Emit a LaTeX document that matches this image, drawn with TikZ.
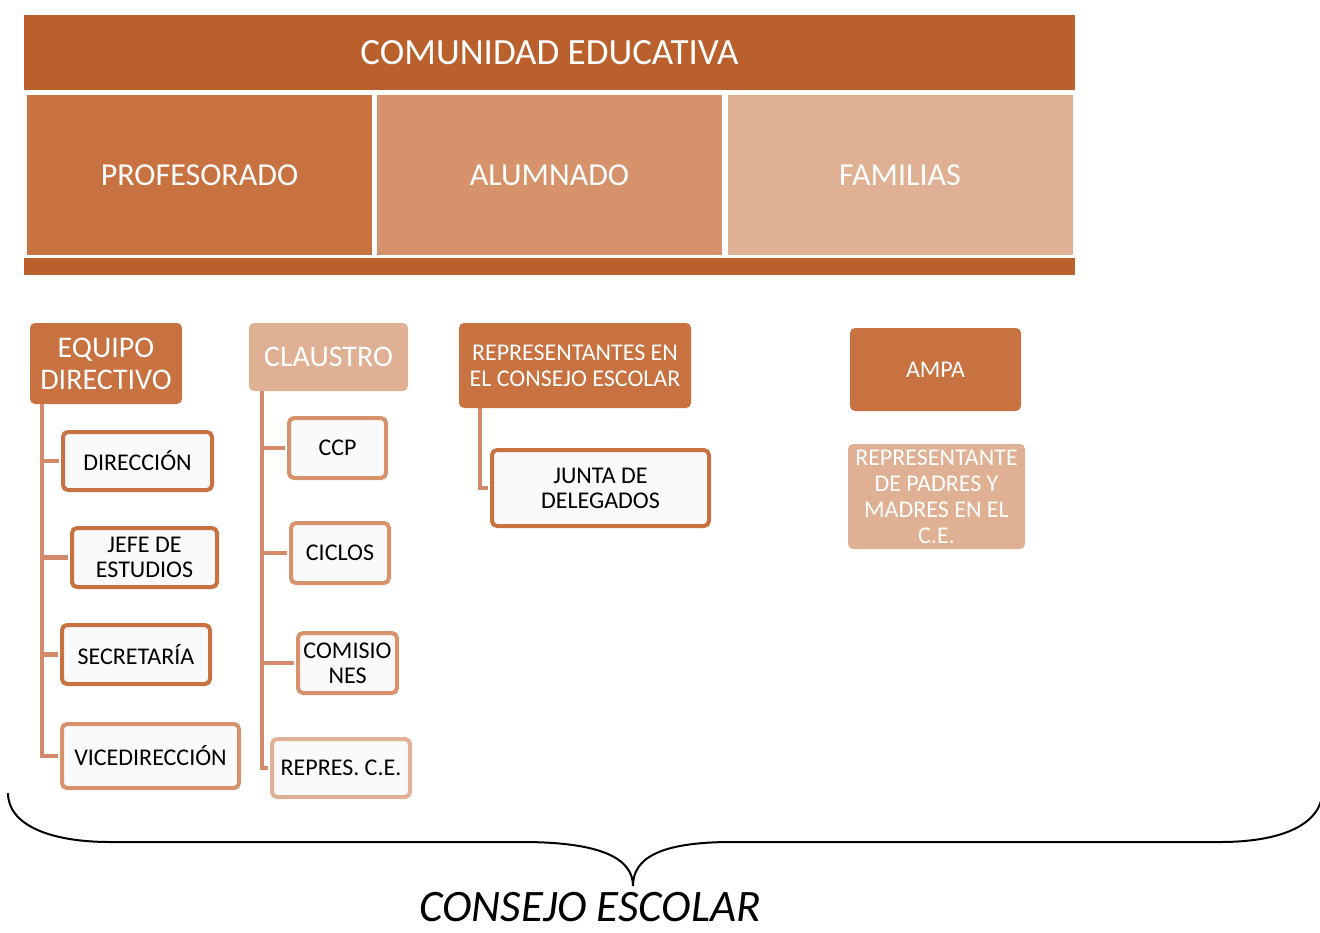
\documentclass[tikz,border=0pt]{standalone}
\usepackage{fontspec}
\setmainfont{Carlito}
\usetikzlibrary{positioning}
\definecolor{darkorange}{HTML}{B9602C}
\definecolor{midorange}{HTML}{C87241}
\definecolor{softorange}{HTML}{D6926B}
\definecolor{paleorange}{HTML}{E0B094}
\definecolor{linkorange}{HTML}{D4896B}
\definecolor{boxwhite}{HTML}{FAFAFA}

\begin{document}
\begin{tikzpicture}[x=1pt,y=-1pt,
    band/.style={fill=#1, text=white, minimum width=1051pt, inner sep=0pt},
    sector/.style={fill=#1, text=white, minimum width=345pt, minimum height=160pt, font=\fontsize{32}{36}\selectfont},
    head/.style={fill=#1, text=white, rounded corners=5pt, align=center, inner sep=0pt},
    leaf/.style={draw=#1, line width=4pt, fill=boxwhite, rounded corners=5pt, align=center, inner sep=0pt, font=\fontsize{24}{25}\selectfont},
    link/.style={draw=linkorange, line width=4.5pt, shorten >=2pt},
    dims/.style 2 args={minimum width=#1pt, minimum height=#2pt}]

    \fill[white] (0,0) rectangle (1320,932);
    \useasboundingbox (0,0) rectangle (1320,932);

    \node[band=darkorange, minimum height=75pt, font=\fontsize{37}{40}\selectfont] (comunidad) at (549.5,52.5) {COMUNIDAD EDUCATIVA};
    \node[sector=midorange] (prof) at (199.5,175) {PROFESORADO};
    \node[sector=softorange] (alum) at (549.5,175) {ALUMNADO};
    \node[sector=paleorange] (fam) at (900,175) {FAMILIAS};
    \node[band=darkorange, minimum height=17pt] (base) at (549.5,266.5) {};

    \node[head=midorange, dims={152}{81}, font=\fontsize{30}{32}\selectfont] (equipo) at (106,363.5) {EQUIPO\\DIRECTIVO};
    \node[leaf=midorange, dims={149}{58}] (direccion) at (137.5,461) {DIRECCIÓN};
    \node[leaf=midorange, dims={145}{59}] (jefe) at (144.5,557.5) {JEFE DE\\ESTUDIOS};
    \node[leaf=midorange, dims={148}{59}] (secretaria) at (136,654.5) {SECRETARÍA};
    \node[leaf=softorange, dims={177}{64}] (vice) at (150.5,756) {VICEDIRECCIÓN};

    \node[head=paleorange, dims={159}{68}, font=\fontsize{30}{32}\selectfont] (claustro) at (328.5,357) {CLAUSTRO};
    \node[leaf=softorange, dims={97}{60}] (ccp) at (337.5,448) {CCP};
    \node[leaf=softorange, dims={98}{60}] (ciclos) at (340,553) {CICLOS};
    \node[leaf=softorange, dims={99}{60}] (comisiones) at (347.5,663) {COMISIO\\NES};
    \node[leaf=paleorange, dims={138}{58}] (repres) at (341,768) {REPRES. C.E.};

    \node[head=midorange, dims={232}{85}, font=\fontsize{24}{26}\selectfont] (consejo) at (575,365.5) {REPRESENTANTES EN\\EL CONSEJO ESCOLAR};
    \node[leaf=midorange, dims={217}{76}] (junta) at (600.5,488) {JUNTA DE\\DELEGADOS};
    \node[head=midorange, dims={171}{83}, font=\fontsize{24}{26}\selectfont] (ampa) at (935.5,369.5) {AMPA};
    \node[head=paleorange, dims={177}{105}, font=\fontsize{24}{26}\selectfont] (padres) at (936.5,496.5) {REPRESENTANTE\\DE PADRES Y\\MADRES EN EL\\C.E.};

    \foreach \kid in {direccion,jefe,secretaria,vice}
        \draw[link] ([xshift=12pt]equipo.south west) |- (\kid.west);
    \foreach \kid in {ccp,ciclos,comisiones,repres}
        \draw[link] ([xshift=13pt]claustro.south west) |- (\kid.west);
    \draw[link] ([xshift=21pt]consejo.south west) |- (junta.west);

    \draw[line width=2pt] (8,793) .. controls (8,825) and (50,842) .. (110,842) -- (522,842)
        .. controls (600,842) and (633,858) .. (633,886) .. controls (633,858) and (660,842) .. (732,842)
        -- (1220,842) .. controls (1290,842) and (1320,820) .. (1322,795);
    \node[anchor=base, inner sep=0pt, font=\itshape\fontsize{45}{46}\selectfont] (titulo) at (590,921) {CONSEJO ESCOLAR};
\end{tikzpicture}
\end{document}
